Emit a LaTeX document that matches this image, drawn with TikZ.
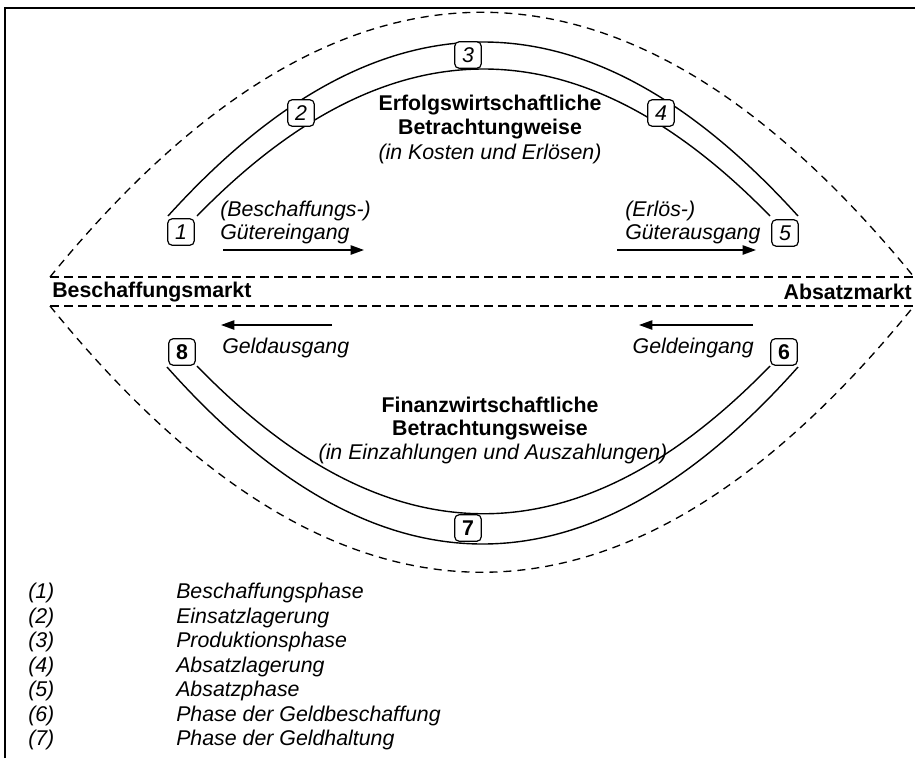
\documentclass[tikz,border=0pt]{standalone}
\usepackage{fontspec}
\setmainfont{Liberation Sans}
\usetikzlibrary{arrows.meta}
\begin{document}
\begin{tikzpicture}[x=0.75pt,y=-0.75pt,
  lbl/.style={inner sep=0pt, font=\fontsize{16}{19}\selectfont\itshape},
  ttl/.style={inner sep=0pt, font=\fontsize{16}{19}\selectfont\bfseries},
  numbox/.style={draw, fill=white, rounded corners=3.5pt, minimum width=20pt, minimum height=20pt, inner sep=0pt, line width=0.9pt, font=\fontsize{16}{19}\selectfont\itshape},
  numboxb/.style={numbox, font=\fontsize{16}{19}\selectfont\bfseries},
  band/.style={line width=1.05pt},
  lens/.style={line width=1pt, dash pattern=on 6pt off 4.5pt},
  mline/.style={line width=1.4pt, dash pattern=on 6.5pt off 4pt},
  flow/.style={line width=1.1pt, -{Triangle[length=10pt,width=7pt]}}]
\useasboundingbox (0,0) rectangle (915,758);
% frame
\draw[line width=1.5pt] (5,758) -- (5,8) -- (915,8);
% dashed lens
\draw[lens] (50,277) .. controls (338,-76) and (626,-76) .. (914,277);
\draw[lens] (50,306) .. controls (338,661) and (626,661) .. (914,306);
\draw[mline] (50,277) -- (914,277);
\draw[mline] (50,306) -- (914,306);
% bands
\draw[band] (168,216) .. controls (378,-16) and (588,-16) .. (798,216);
\draw[band] (197,216) .. controls (388,20) and (579,20) .. (770,216);
\draw[band] (167,367) .. controls (377,603) and (588,603) .. (798,367);
\draw[band] (197,366) .. controls (388,563) and (579,563) .. (770,366);
% boxes
\node[numbox] (n1) at (181,232) {1};
\node[numbox] (n2) at (301,113) {2};
\node[numbox] (n3) at (468,55) {3};
\node[numbox] (n4) at (661,113) {4};
\node[numbox] (n5) at (785,233) {5};
\node[numboxb] (n6) at (784,352) {6};
\node[numboxb] (n7) at (468,528) {7};
\node[numboxb] (n8) at (182,352) {8};
% market labels
\node[ttl, anchor=west] (bm) at (52,292) {Beschaffungsmarkt};
\node[ttl, anchor=east] (am) at (912,292) {Absatzmarkt};
% titles
\node[ttl] (e1) at (490,105) {Erfolgswirtschaftliche};
\node[ttl] (e2) at (490,129) {Betrachtungweise};
\node[lbl] (e3) at (490,154) {(in Kosten und Erlösen)};
\node[ttl] (f1) at (490,405) {Finanzwirtschaftliche};
\node[ttl] (f2) at (490,430) {Betrachtungsweise};
\node[lbl] (f3) at (493,454) {(in Einzahlungen und Auszahlungen)};
% flow labels
\node[lbl, anchor=west] (g1) at (220,211) {(Beschaffungs-)};
\node[lbl, anchor=west] (g2) at (220,234) {Gütereingang};
\node[lbl, anchor=west] (g3) at (625,211) {(Erlös-)};
\node[lbl, anchor=west] (g4) at (625,234) {Güterausgang};
\node[lbl, anchor=west] (g5) at (222,348) {Geldausgang};
\node[lbl, anchor=east] (g6) at (754,348) {Geldeingang};
% arrows
\coordinate (a1s) at (223,250); \coordinate (a1e) at (364,250);
\coordinate (a2s) at (617,250); \coordinate (a2e) at (756,250);
\coordinate (a3s) at (332,325); \coordinate (a3e) at (221,325);
\coordinate (a4s) at (753,325); \coordinate (a4e) at (639,325);
\draw[flow] (a1s) -- (a1e);
\draw[flow] (a2s) -- (a2e);
\draw[flow] (a3s) -- (a3e);
\draw[flow] (a4s) -- (a4e);
% legend
\foreach \k/\t [count=\i from 0] in {1/Beschaffungsphase,2/Einsatzlagerung,3/Produktionsphase,4/Absatzlagerung,5/Absatzphase,6/Phase der Geldbeschaffung,7/Phase der Geldhaltung}{
  \node[lbl, anchor=west] (lk\k) at (28,{593+24.5*\i}) {(\k)};
  \node[lbl, anchor=west] (lt\k) at (176,{593+24.5*\i}) {\t};
}
\end{tikzpicture}
\end{document}
